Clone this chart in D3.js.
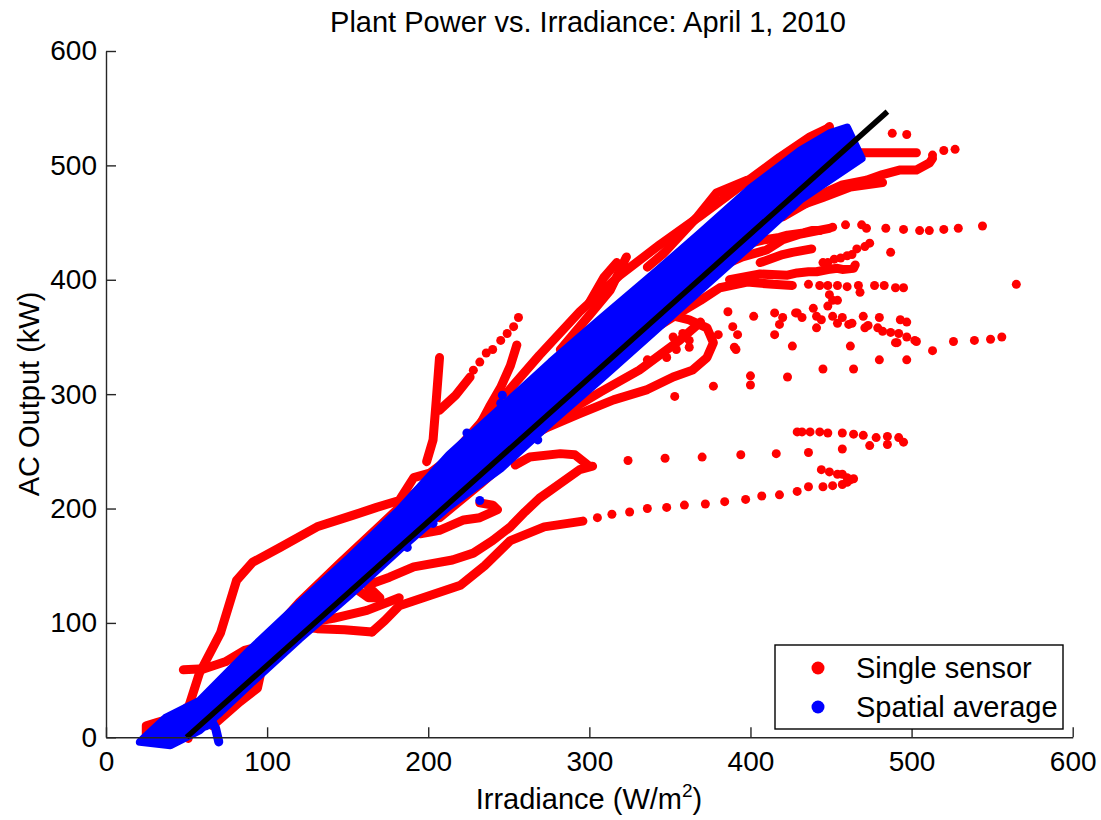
<!DOCTYPE html>
<html>
<head>
<meta charset="utf-8">
<script src="https://cdn.jsdelivr.net/npm/d3@7"></script>
<style>
  body { margin: 0; background: #fff; }
  text { font-family: "Liberation Sans", Arial, sans-serif; }
</style>
</head>
<body>
<div id="chart"></div>
<script>
const W = 1101, H = 820;

const xTicks = [0, 100, 200, 300, 400, 500, 600];
const yTicks = [0, 100, 200, 300, 400, 500, 600];

// least squares fit, [irradiance, kW]
const fitLine = [[50, 0], [485, 547]];

// outline of the dense spatial-average cloud
const blueCore = [
  [21, -4], [37, 17], [58, 32], [89, 76], [120, 117], [151, 157], [182, 199], [213, 247],
  [245, 288], [276, 328], [307, 366], [338, 403], [369, 441], [400, 480], [431, 513],
  [449, 528], [460, 533],
  [469, 506], [431, 470], [400, 430], [369, 391], [338, 352], [307, 313], [276, 275],
  [245, 235], [213, 202], [182, 164], [151, 124], [120, 86], [89, 46], [71, 22], [58, 6], [40, -7]
];
const blueTraces = [
  [[57, 10], [62, 10], [66, 13], [68, 8], [70, -4]]
];
const blueDots = [[224, 266], [232, 207], [203, 187], [187, 166], [246, 299], [245, 292], [268, 260]];

// dense single-sensor trails (dots so close they merge)
const redTraces = [
  [[51, -1], [50, 21], [58, 56], [71, 91], [81, 137], [91, 153], [108, 166], [131, 184], [153, 194],
   [168, 201], [182, 207], [191, 227], [201, 231], [220, 251]],
  [[48, 59], [61, 60], [74, 66], [86, 76], [97, 80]],
  [[25, 0], [25, 10], [32, 13], [42, 17], [52, 28]],
  [[66, 10], [83, 31], [94, 43], [96, 56], [91, 64]],
  [[96, 80], [120, 118], [145, 152], [170, 185], [195, 218], [220, 255], [245, 295], [269, 334],
   [294, 372], [319, 404], [344, 431], [369, 456], [394, 482], [418, 507], [437, 525], [449, 533]],
  [[336, 411], [346, 423], [367, 455], [379, 476], [398, 487], [405, 481], [414, 496], [426, 511],
   [441, 522], [449, 534]],
  [[282, 339], [300, 369], [313, 391], [323, 420]],
  [[300, 380], [309, 402], [317, 415]],
  [[199, 241], [203, 260], [205, 295], [207, 332]],
  [[207, 286], [217, 299], [226, 315]],
  [[232, 273], [238, 289], [245, 306], [251, 325], [255, 343]],
  [[119, 97], [131, 95], [148, 94], [165, 92]],
  [[125, 100], [141, 104], [162, 111], [182, 122]],
  [[165, 92], [173, 102], [182, 115], [201, 124], [220, 133], [235, 150], [251, 172], [272, 184], [296, 189]],
  [[156, 129], [163, 122], [170, 122], [162, 133], [176, 140], [191, 149], [215, 155], [228, 161],
   [240, 172], [251, 184], [260, 197], [269, 209], [282, 222], [294, 234], [302, 237]],
  [[195, 178], [207, 181], [222, 190], [232, 192], [243, 199], [240, 203], [232, 205]],
  [[254, 238], [263, 245], [282, 248], [291, 247], [300, 237]],
  [[207, 192], [232, 221], [253, 247], [269, 267], [288, 286], [307, 302], [331, 321], [356, 347], [369, 363]],
  [[259, 260], [274, 271], [294, 283], [315, 295], [336, 304], [352, 315], [364, 321], [373, 332],
   [377, 345], [373, 358], [362, 365], [350, 369], [338, 365]],
  [[331, 349], [356, 371], [369, 382], [381, 393], [398, 398], [414, 396], [426, 395]],
  [[369, 404], [395, 420], [410, 426], [420, 435], [431, 440], [449, 445]],
  [[387, 400], [406, 405], [423, 404], [429, 406], [436, 407], [441, 407], [448, 409], [454, 410],
   [457, 409], [464, 410], [465, 413]],
  [[406, 415], [420, 422], [426, 424], [438, 427]],
  [[400, 432], [409, 435], [418, 437], [423, 439], [433, 441], [438, 443], [443, 443]],
  [[466, 511], [474, 511], [482, 511], [495, 511], [503, 511]],
  [[420, 455], [441, 472], [449, 478], [457, 483], [472, 487], [482, 492], [493, 496], [503, 496], [511, 502], [513, 506]],
  [[425, 462], [445, 472], [462, 481], [482, 485]]
];

// sparse single-sensor points
const redDots = [
  [488, 528], [497, 527], [513, 509], [520, 513], [527, 514],
  [451, 446], [459, 448], [469, 448], [472, 445], [484, 445], [495, 444], [505, 443], [511, 443],
  [520, 444], [529, 445], [544, 447],
  [445, 415], [448, 415], [452, 418], [456, 419], [460, 421], [463, 422], [466, 427], [471, 429],
  [474, 432], [487, 424],
  [436, 396], [443, 395], [448, 395], [454, 395], [460, 394], [467, 395], [468, 389], [477, 395],
  [483, 395], [490, 393], [495, 393], [565, 396], [449, 387], [451, 382], [448, 377], [454, 382],
  [420, 367], [428, 371], [432, 367], [439, 375], [441, 368], [444, 365], [451, 368], [457, 367],
  [454, 362], [461, 361], [463, 362], [470, 368], [473, 360], [471, 358], [479, 358], [480, 367],
  [482, 355], [487, 354], [490, 345], [492, 353], [493, 365], [497, 363], [497, 350], [502, 347],
  [513, 338], [526, 346], [539, 347], [549, 348], [556, 350], [426, 342], [441, 358], [462, 342],
  [480, 330], [497, 330], [423, 315], [445, 322], [464, 322], [418, 361], [400, 316], [400, 308],
  [377, 307], [353, 298], [391, 339], [380, 352], [392, 352], [389, 359], [386, 372], [402, 368],
  [415, 371], [415, 352], [429, 371], [390, 341], [491, 345], [503, 346],
  [336, 330], [348, 332], [354, 339], [362, 341], [362, 347], [358, 353], [352, 350],
  [324, 242], [347, 244], [370, 245], [394, 247], [416, 248], [436, 249], [457, 252], [474, 255],
  [485, 256], [495, 258], [492, 262], [485, 263], [478, 262], [470, 264], [464, 265], [457, 266],
  [448, 266], [443, 267], [437, 267], [432, 267], [429, 267],
  [305, 192], [314, 195], [325, 197], [336, 200], [348, 201], [359, 203], [372, 204], [384, 206],
  [397, 208], [407, 211], [418, 212], [429, 215], [436, 219], [445, 219], [451, 220], [457, 221],
  [460, 223], [462, 225], [464, 226], [460, 227], [457, 230], [454, 230], [449, 232], [444, 234],
  [228, 321], [232, 328], [236, 336], [240, 339], [245, 347], [249, 353], [253, 359], [256, 367]
];

const legendItems = [
  { label: "Single sensor", color: "#ff0000" },
  { label: "Spatial average", color: "#0000ff" }
];

const svg = d3.select("#chart").append("svg")
  .attr("width", W)
  .attr("height", H);

const x = d3.scaleLinear().domain([0, 600]).range([106, 1072.7]);
const y = d3.scaleLinear().domain([0, 600]).range([737.3, 51]);

const line = d3.line().x(d => x(d[0])).y(d => y(d[1]));

// single sensor
svg.append("g")
  .attr("fill", "none")
  .attr("stroke", "#ff0000")
  .attr("stroke-width", 9)
  .attr("stroke-linecap", "round")
  .attr("stroke-linejoin", "round")
  .selectAll("path")
  .data(redTraces)
  .enter().append("path")
  .attr("d", line);

svg.append("g")
  .attr("fill", "#ff0000")
  .selectAll("circle")
  .data(redDots)
  .enter().append("circle")
  .attr("cx", d => x(d[0]))
  .attr("cy", d => y(d[1]))
  .attr("r", 4.5);

// spatial average
svg.append("path")
  .datum(blueCore)
  .attr("d", d => line(d) + "Z")
  .attr("fill", "#0000ff")
  .attr("stroke", "#0000ff")
  .attr("stroke-width", 8)
  .attr("stroke-linejoin", "round");

svg.append("g")
  .attr("fill", "none")
  .attr("stroke", "#0000ff")
  .attr("stroke-width", 9)
  .attr("stroke-linecap", "round")
  .attr("stroke-linejoin", "round")
  .selectAll("path")
  .data(blueTraces)
  .enter().append("path")
  .attr("d", line);

svg.append("g")
  .attr("fill", "#0000ff")
  .selectAll("circle")
  .data(blueDots)
  .enter().append("circle")
  .attr("cx", d => x(d[0]))
  .attr("cy", d => y(d[1]))
  .attr("r", 4.5);

// fit
svg.append("path")
  .datum(fitLine)
  .attr("d", line)
  .attr("stroke", "#000")
  .attr("stroke-width", 5.5)
  .attr("fill", "none");

// axes
const xAxis = svg.append("g")
  .attr("transform", `translate(0,${y(0)})`)
  .call(d3.axisBottom(x).tickValues(xTicks).tickSize(-10).tickSizeOuter(0).tickPadding(14));
const yAxis = svg.append("g")
  .attr("transform", `translate(${x(0)},0)`)
  .call(d3.axisLeft(y).tickValues(yTicks).tickSize(-10).tickSizeOuter(0).tickPadding(9));

[xAxis, yAxis].forEach(g => {
  g.attr("font-size", 28).attr("font-family", '"Liberation Sans", Arial, sans-serif');
  g.selectAll("path, line").attr("stroke", "#262626").attr("stroke-width", 1.4);
  g.selectAll("text").attr("fill", "#000");
});

svg.append("text")
  .attr("x", 588).attr("y", 32)
  .attr("text-anchor", "middle")
  .attr("font-size", 29)
  .text("Plant Power vs. Irradiance: April 1, 2010");

const xl = svg.append("text")
  .attr("x", 589).attr("y", 809)
  .attr("text-anchor", "middle")
  .attr("font-size", 29);
xl.append("tspan").text("Irradiance (W/m");
xl.append("tspan").attr("font-size", 19).attr("dy", -12).text("2");
xl.append("tspan").attr("dy", 12).text(")");

svg.append("text")
  .attr("transform", "translate(39,394) rotate(-90)")
  .attr("text-anchor", "middle")
  .attr("font-size", 29)
  .text("AC Output (kW)");

// legend
const lg = svg.append("g");
lg.append("rect")
  .attr("x", 775).attr("y", 645)
  .attr("width", 288).attr("height", 84)
  .attr("fill", "#fff")
  .attr("stroke", "#000")
  .attr("stroke-width", 1.4);
const li = lg.selectAll("g.item")
  .data(legendItems)
  .enter().append("g")
  .attr("transform", (d, i) => `translate(0,${668 + i * 39})`);
li.append("circle").attr("cx", 818).attr("cy", 0).attr("r", 6.5).attr("fill", d => d.color);
li.append("text").attr("x", 856).attr("y", 10).attr("font-size", 29).text(d => d.label);
</script>
</body>
</html>
